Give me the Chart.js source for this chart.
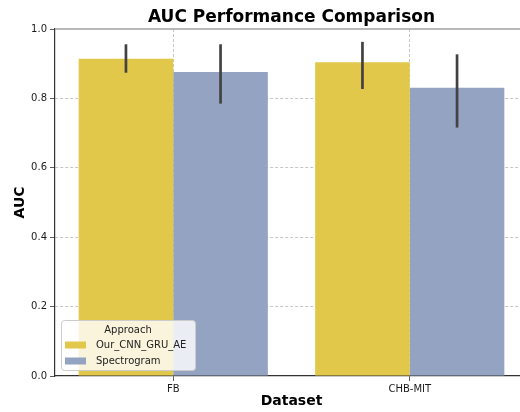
<!DOCTYPE html>
<html>
<head>
<meta charset="utf-8">
<title>AUC Performance Comparison</title>
<script src="https://cdn.jsdelivr.net/npm/chart.js@4.4.0/dist/chart.umd.min.js"></script>
<style>
    html, body { margin: 0; padding: 0; background: #fff; overflow: hidden; }
    #wrap { width: 528px; height: 412px; }
</style>
</head>
<body>
<div id="wrap"><canvas id="chart" width="528" height="412"></canvas></div>
<script>
// data
const datasetNames = ['FB', 'CHB-MIT'];
const approaches = ['Our_CNN_GRU_AE', 'Spectrogram'];

const ourAuc = [0.914, 0.904];
const ourLow = [0.874, 0.827];
const ourHigh = [0.956, 0.963];

const specAuc = [0.876, 0.831];
const specLow = [0.785, 0.716];
const specHigh = [0.956, 0.927];

const yTicks = [0, 0.2, 0.4, 0.6, 0.8, 1.0];

const FONT = "'DejaVu Sans', sans-serif";
const colors = ['#e2c84a', '#94a3c2'];

// draw the error bars through the y scale
const errorBars = {
    id: 'errorBars',
    afterDatasetsDraw(chart) {
        const ctx = chart.ctx;
        const yScale = chart.scales.y;
        ctx.save();
        ctx.strokeStyle = '#424242';
        ctx.lineWidth = 2.7;
        chart.data.datasets.forEach((ds, i) => {
            const meta = chart.getDatasetMeta(i);
            meta.data.forEach((bar, j) => {
                ctx.beginPath();
                ctx.moveTo(bar.x, yScale.getPixelForValue(ds.errLow[j]));
                ctx.lineTo(bar.x, yScale.getPixelForValue(ds.errHigh[j]));
                ctx.stroke();
            });
        });
        ctx.restore();
    }
};

// title over the plot area, top spine and the legend box inside the plot
const decorations = {
    id: 'decorations',
    afterDraw(chart) {
        const ctx = chart.ctx;
        const area = chart.chartArea;
        ctx.save();

        // top spine
        ctx.strokeStyle = '#a0a0a0';
        ctx.lineWidth = 1.5;
        ctx.beginPath();
        ctx.moveTo(area.left, area.top);
        ctx.lineTo(area.right, area.top);
        ctx.stroke();

        // title
        ctx.fillStyle = '#000';
        ctx.font = 'bold 17px ' + FONT;
        ctx.textAlign = 'center';
        ctx.textBaseline = 'middle';
        ctx.fillText('AUC Performance Comparison', (area.left + area.right) / 2, 17.5);

        // legend
        const bx = area.left + 6, by = area.bottom - 56, bw = 134, bh = 50;
        ctx.fillStyle = 'rgba(255,255,255,0.8)';
        ctx.strokeStyle = '#cccccc';
        ctx.lineWidth = 1;
        ctx.beginPath();
        ctx.roundRect(bx + 0.5, by + 0.5, bw, bh, 3);
        ctx.fill();
        ctx.stroke();

        ctx.fillStyle = '#222';
        ctx.font = '10px ' + FONT;
        ctx.fillText('Approach', bx + bw / 2, by + 10);
        ctx.textAlign = 'left';
        chart.data.datasets.forEach((ds, i) => {
            const yy = by + 25 + i * 16;
            ctx.fillStyle = ds.backgroundColor;
            ctx.fillRect(bx + 4, yy - 3.5, 21, 7);
            ctx.fillStyle = '#222';
            ctx.fillText(ds.label, bx + 35, yy);
        });
        ctx.restore();
    }
};

const ctx = document.getElementById('chart').getContext('2d');
new Chart(ctx, {
    type: 'bar',
    data: {
        labels: datasetNames,
        datasets: [
            { label: approaches[0], data: ourAuc, errLow: ourLow, errHigh: ourHigh,
              backgroundColor: colors[0], borderWidth: 0 },
            { label: approaches[1], data: specAuc, errLow: specLow, errHigh: specHigh,
              backgroundColor: colors[1], borderWidth: 0 }
        ]
    },
    options: {
        responsive: false,
        animation: false,
        devicePixelRatio: 1,
        datasets: { bar: { categoryPercentage: 0.8, barPercentage: 1.0 } },
        layout: { padding: { top: 29, left: 0, right: 0, bottom: 0 } },
        plugins: {
            legend: { display: false },
            title: { display: false },
            tooltip: { enabled: false }
        },
        scales: {
            x: {
                afterFit: s => { s.height = 36; },
                grid: {
                    offset: false,
                    color: '#b8b8b8',
                    lineWidth: 0.8,
                    tickColor: '#333',
                    tickLength: 5,
                    tickBorderDash: []
                },
                border: { display: true, color: '#333', width: 1.2, dash: [3, 2] },
                ticks: { font: { family: FONT, size: 10 }, color: '#1a1a1a', padding: 2 },
                title: {
                    display: true, text: 'Dataset', color: '#000',
                    font: { family: FONT, size: 14, weight: 'bold' },
                    padding: { top: 0, bottom: 2 }
                }
            },
            y: {
                min: 0, max: 1,
                afterFit: s => { s.width = 55; },
                afterBuildTicks: s => { s.ticks = yTicks.map(v => ({ value: v })); },
                grid: {
                    color: c => (c.tick && (c.tick.value === 0 || c.tick.value === 1)) ? 'rgba(0,0,0,0)' : '#b8b8b8',
                    lineWidth: 0.8,
                    tickColor: '#333',
                    tickLength: 5,
                    tickBorderDash: []
                },
                border: { display: true, color: '#333', width: 1.2, dash: [3, 2] },
                ticks: {
                    font: { family: FONT, size: 10 }, color: '#1a1a1a', padding: 3,
                    callback: v => Number(v).toFixed(1)
                },
                title: {
                    display: true, text: 'AUC', color: '#000',
                    font: { family: FONT, size: 14, weight: 'bold' },
                    padding: { top: 12, bottom: 0 }
                }
            }
        }
    },
    plugins: [errorBars, decorations]
});
</script>
</body>
</html>
